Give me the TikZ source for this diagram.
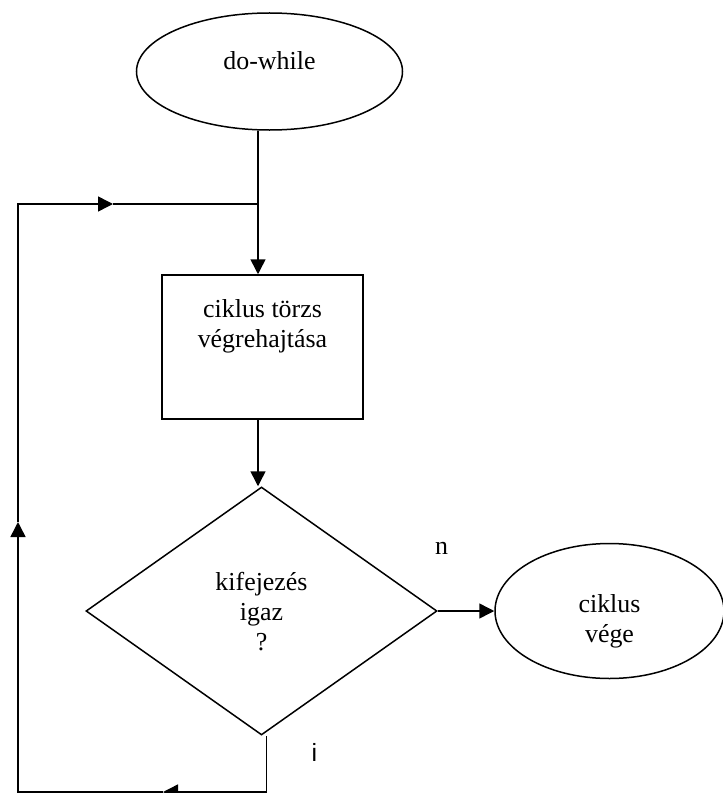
\documentclass[tikz,border=0pt]{standalone}
\usepackage{fontspec}
\setmainfont{Liberation Serif}
\newfontfamily\labelsans{Liberation Sans}
\usetikzlibrary{shapes.geometric,arrows.meta,positioning}
\tikzset{
    fcBase/.style={
        draw,
        line width=1.5bp,
        inner sep=0pt
    },
    % shape variants
    fcTerminal/.style={fcBase, ellipse},
    fcProcess/.style={fcBase, rectangle},
    fcDecision/.style={fcBase, diamond},
    fcText/.style={
        align=center,
        inner sep=0pt,
        font=\fontsize{26}{30.5}\selectfont
    },
    % connectors
    fcLine/.style={line width=1.5bp},
    fcArrow/.style={fcLine, -{Triangle[length=15bp,width=15bp]}}
}

\begin{document}
\begin{tikzpicture}[x=1bp, y=-1bp]
\useasboundingbox (0,0) rectangle (723,793);

% Shapes
\node[fcTerminal, minimum width=266bp, minimum height=117bp] (start) at (269.5,71.5) {};
\node[fcText] (startTxt) at ([yshift=10.5bp]start.center) {do-while};

\node[fcProcess, minimum width=201bp, minimum height=144bp] (body) at (262.5,347) {};
\node[fcText] (bodyTxt) at ([yshift=21bp]body.center) {ciklus törzs\\végrehajtása};

\node[fcDecision, minimum width=351bp, minimum height=248bp] (cond) at (261.5,611) {};
\node[fcText] (condTxt) at ([yshift=-0.5bp]cond.center) {kifejezés\\igaz\\?};

\node[fcTerminal, minimum width=229bp, minimum height=135bp] (stop) at (609.5,611) {};
\node[fcText] (stopTxt) at ([yshift=-10bp]stop.center) {ciklus\\vége};

% Branch labels
\node[fcText] (lblN) at (441.5,548) {n};
\node[fcText, font=\labelsans\fontsize{25}{30}\selectfont] (lblI) at (314.5,752) {i};

% Loop corners and arrow tips
\coordinate (join) at (258,204);
\coordinate (loopTL) at (18,204);
\coordinate (loopBL) at (18,792);
\coordinate (loopBR) at (266.5,792);
\coordinate (tipB) at (163,792);
\coordinate (tipL) at (18,522);
\coordinate (tipT) at (113,204);

% Main flow
\draw[fcLine] (join |- start.south) -- (join);
\draw[fcArrow] (join) -- (join |- body.north);
\draw[fcArrow] (body.south -| join) -- (cond.north -| join);
\draw[fcArrow] (cond.east) -- (stop.west);

% Back edge
\draw[fcArrow] (loopBR |- cond.south) -- (loopBR) -- (tipB);
\draw[fcArrow] (tipB) -- (loopBL) -- (tipL);
\draw[fcArrow] (tipL) -- (loopTL) -- (tipT);
\draw[fcLine] (tipT) -- (join);
\end{tikzpicture}
\end{document}
